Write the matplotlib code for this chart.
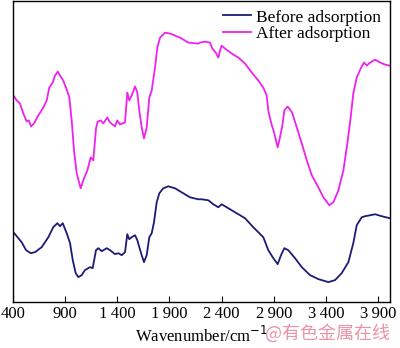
import matplotlib
matplotlib.use("Agg")
import matplotlib.pyplot as plt

plt.rcParams['font.family'] = ['Liberation Serif', 'DejaVu Serif']

# Wavenumber (cm^-1) and relative transmittance (arbitrary units)
wn_after = [412, 435, 467, 499, 531, 553, 573, 601, 643, 691, 723, 748, 781, 803, 829, 851,
            882, 915, 940, 963, 985, 1011, 1049, 1081, 1113, 1145, 1170, 1196, 1212, 1241,
            1266, 1304, 1330, 1378, 1400, 1426, 1474, 1496, 1515, 1538, 1570, 1592, 1611,
            1634, 1656, 1682, 1707, 1730, 1762, 1784, 1810, 1858, 1906, 2002, 2081, 2177,
            2193, 2241, 2289, 2311, 2344, 2369, 2385, 2401, 2433, 2497, 2561, 2625, 2689,
            2752, 2800, 2833, 2848, 2874, 2906, 2938, 2960, 2983, 3002, 3034, 3076, 3121,
            3169, 3217, 3265, 3328, 3376, 3433, 3472, 3520, 3568, 3606, 3638, 3663, 3696,
            3734, 3766, 3792, 3824, 3872, 3920, 3967, 4009]
t_after = [206, 202, 199, 189, 181, 182, 176, 179, 187, 195, 202, 215, 220, 227, 231, 227,
           222, 213, 205, 182, 152, 129, 114, 124, 132, 145, 142, 174, 181, 182,
           179, 185, 180, 176, 182, 178, 180, 210, 202, 207, 216, 210, 192,
           175, 164, 175, 205, 212, 235, 255, 265, 270, 269, 265, 260, 259,
           260, 261, 260, 254, 250, 245, 252, 257, 254, 249, 245, 239, 230,
           222, 215, 207, 192, 180, 169, 155, 165, 177, 192, 196, 190, 175,
           159, 142, 127, 115, 105, 97, 100, 112, 132, 159, 185, 209, 225,
           234, 240, 237, 240, 243, 240, 238, 237]

wn_before = [412, 451, 483, 525, 570, 611, 675, 739, 786, 825, 851, 877, 915, 947, 973, 1001,
             1026, 1059, 1090, 1138, 1164, 1196, 1218, 1251, 1299, 1330, 1378, 1410, 1442,
             1474, 1496, 1515, 1538, 1570, 1592, 1611, 1634, 1656, 1682, 1707, 1730, 1752,
             1778, 1803, 1841, 1889, 1954, 2033, 2097, 2177, 2210, 2273, 2321, 2369, 2401,
             2449, 2529, 2625, 2704, 2800, 2848, 2896, 2938, 2970, 3002, 3040, 3104, 3169,
             3248, 3328, 3424, 3488, 3552, 3616, 3663, 3696, 3744, 3776, 3824, 3872, 3936, 4015]
t_before = [69, 64, 60, 52, 49, 50, 55, 65, 75, 79, 76, 79, 69, 59, 42, 29,
            25, 27, 32, 35, 34, 52, 54, 51, 54, 52, 48, 49, 47,
            50, 68, 63, 65, 67, 62, 55, 47, 40, 47, 65, 69, 80,
            100, 109, 114, 116, 114, 109, 105, 103, 103, 102, 98, 95, 98,
            95, 90, 84, 75, 65, 52, 44, 38, 47, 54, 52, 44, 35,
            27, 23, 20, 22, 29, 40, 59, 77, 85, 86, 87, 88, 86, 84]

xticks = [400, 900, 1400, 1900, 2400, 2900, 3400, 3900]
xticklabels = ["400", "900", "1\u2009400", "1\u2009900", "2\u2009400", "2\u2009900", "3\u2009400", "3\u2009900"]

fig = plt.figure(figsize=(4.0, 3.48), dpi=100)
ax = fig.add_axes([0.0325, 0.132, 0.9425, 0.866])

ax.plot(wn_before, t_before, color='#1c1c78', lw=1.3, label='Before adsorption')
ax.plot(wn_after, t_after, color='#ee22ee', lw=1.3, label='After adsorption')

ax.set_xlim(400, 4015)
ax.set_ylim(0, 302)
ax.set_xticks(xticks)
ax.set_xticklabels(xticklabels, fontsize=12)
ax.set_yticks([])
ax.tick_params(axis='x', direction='in', length=4, pad=3)
ax.set_xlabel('Wavenumber/cm$^{-1}$', fontsize=12, labelpad=3)
for s in ax.spines.values():
    s.set_linewidth(1.0)

leg = ax.legend(loc='upper right', frameon=False, fontsize=12.5, handlelength=1.6,
                handletextpad=0.3, labelspacing=0.0, borderaxespad=0.1,
                bbox_to_anchor=(1.0, 1.0))

fig.text(0.975, 0.042, '@有色金属在线', color='#e8889a', fontsize=13, ha='right', va='center',
         family=['Noto Sans CJK SC', 'DejaVu Sans'], alpha=0.9)

fig.savefig('out.png', dpi=100)
